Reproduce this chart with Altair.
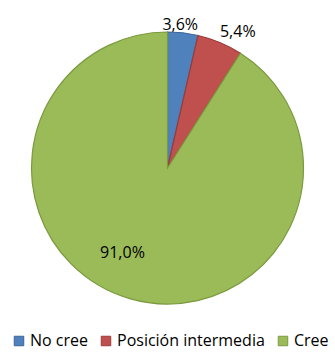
import altair as alt
import pandas as pd

categories = ["No cree", "Posición intermedia", "Cree"]
values = [3.6, 5.4, 91.0]
labels = ["3,6%", "5,4%", "91,0%"]
fills = ["#4F81BD", "#C0504D", "#9BBB59"]
strokes = ["#3B6596", "#9C3B38", "#7A9A3E"]

df = pd.DataFrame({"cat": categories, "val": values, "lab": labels, "ord": [0, 1, 2]})

FONT = "Open Sans"

pie = alt.Chart(df).mark_arc(outerRadius=136, strokeWidth=1.2).encode(
    theta=alt.Theta("val:Q", stack=True),
    order=alt.Order("ord:Q"),
    color=alt.Color(
        "cat:N",
        scale=alt.Scale(domain=categories, range=fills),
        sort=categories,
        legend=alt.Legend(
            title=None,
            orient="none",
            legendX=11,
            legendY=333,
            padding=0,
            direction="horizontal",
            symbolType="square",
            symbolSize=90,
            symbolStrokeWidth=1,
            labelFont=FONT,
            labelFontSize=16,
            labelColor="#000000",
            labelOffset=3,
            columnPadding=10,
        ),
    ),
    stroke=alt.Stroke(
        "cat:N",
        scale=alt.Scale(domain=categories, range=strokes),
        legend=None,
    ),
)

lab_base = alt.Chart(df).transform_window(
    cum="sum(val)", sort=[alt.SortField("ord")]
).transform_calculate(mid="datum.cum - datum.val / 2")


def lab(i, radius, dx=0, dy=0):
    return lab_base.transform_filter(alt.datum.ord == i).mark_text(
        radius=radius, font=FONT, fontSize=16, color="#000000", dx=dx, dy=dy
    ).encode(
        theta=alt.Theta("mid:Q", scale=alt.Scale(domain=[0, 100], range=[0, 6.283185])),
        text="lab:N",
    )


chart = alt.layer(
    pie,
    lab(0, 144, dx=-3.5),
    lab(1, 146, dx=14, dy=-1),
    lab(2, 88, dx=-20.5),
).resolve_scale(theta="independent").properties(
    width=335, height=336,
    autosize=alt.AutoSizeParams(type="none"),
    padding={"left": 0, "top": 0, "right": 0, "bottom": 18},
).configure_view(stroke=None).configure(background="#FFFFFF")

chart.save("out.html", embed_options={"renderer": "svg", "actions": False})
